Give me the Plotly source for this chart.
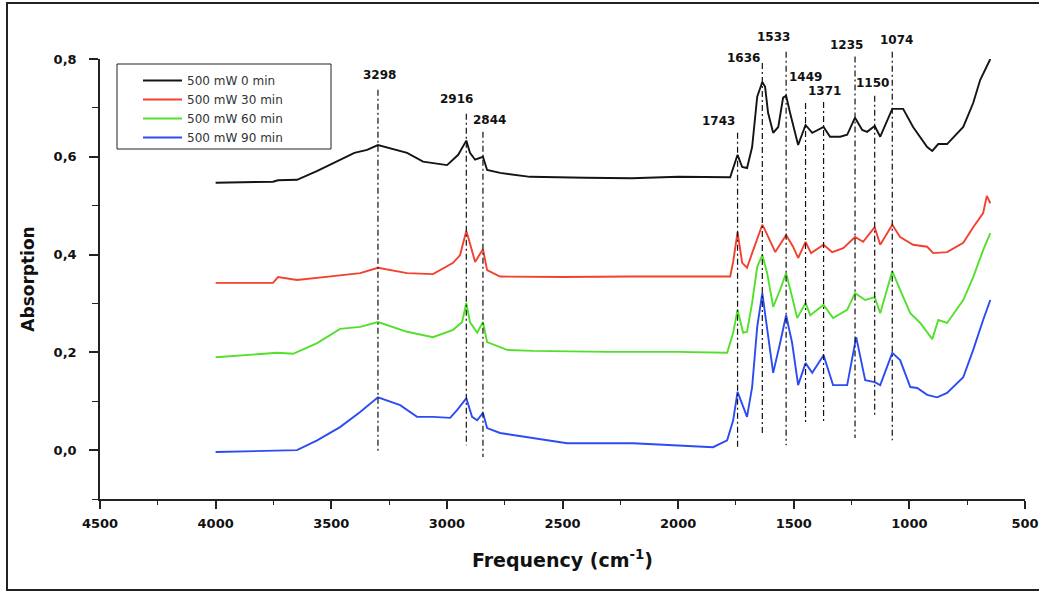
import plotly.graph_objects as go

# ---------------- data ----------------
series_names = ["500 mW 0 min", "500 mW 30 min", "500 mW 60 min", "500 mW 90 min"]
series_colors = ["#141414", "#f2412f", "#52e02c", "#2c4cf2"]

freq_0 = [4000, 3752, 3730, 3648, 3560, 3492, 3400, 3345, 3298, 3172, 3103, 3029, 2999, 2951, 2916,
          2900, 2878, 2844, 2826, 2770, 2640, 2400, 2200, 2000, 1775, 1743, 1723, 1702, 1680, 1658,
          1636, 1624, 1611, 1589, 1567, 1546, 1533, 1516, 1481, 1449, 1420, 1371, 1343, 1299, 1269,
          1235, 1204, 1183, 1150, 1126, 1074, 1027, 984, 923, 901, 875, 837, 767, 724, 694, 650]
abs_0 = [0.547, 0.549, 0.552, 0.553, 0.571, 0.587, 0.608, 0.614, 0.624, 0.608, 0.590, 0.585, 0.583, 0.604, 0.633,
         0.608, 0.594, 0.600, 0.573, 0.567, 0.559, 0.557, 0.556, 0.559, 0.558, 0.604, 0.579, 0.577, 0.620, 0.723,
         0.753, 0.743, 0.690, 0.649, 0.661, 0.721, 0.725, 0.690, 0.624, 0.665, 0.649, 0.661, 0.641, 0.641, 0.645,
         0.680, 0.655, 0.651, 0.663, 0.641, 0.698, 0.698, 0.661, 0.620, 0.612, 0.626, 0.626, 0.661, 0.710, 0.757, 0.800]

freq_30 = [4000, 3752, 3730, 3648, 3492, 3375, 3298, 3172, 3060, 2973, 2943, 2916, 2908, 2878, 2844,
           2826, 2770, 2500, 2200, 2000, 1775, 1762, 1743, 1723, 1702, 1680, 1636, 1624, 1580, 1533,
           1503, 1481, 1449, 1425, 1371, 1334, 1286, 1235, 1200, 1150, 1126, 1074, 1040, 984, 923,
           897, 837, 767, 724, 681, 665, 650]
abs_30 = [0.342, 0.342, 0.354, 0.348, 0.356, 0.362, 0.373, 0.362, 0.360, 0.383, 0.399, 0.448, 0.436, 0.385, 0.411,
          0.368, 0.355, 0.354, 0.355, 0.355, 0.355, 0.385, 0.446, 0.383, 0.373, 0.403, 0.461, 0.450, 0.405, 0.440,
          0.416, 0.393, 0.426, 0.403, 0.420, 0.405, 0.413, 0.436, 0.426, 0.456, 0.420, 0.461, 0.436, 0.420, 0.416,
          0.403, 0.405, 0.424, 0.456, 0.485, 0.520, 0.505]

freq_60 = [4000, 3734, 3665, 3561, 3462, 3375, 3298, 3172, 3060, 2973, 2934, 2916, 2900, 2869, 2844,
           2826, 2740, 2627, 2300, 2000, 1788, 1762, 1743, 1719, 1702, 1680, 1658, 1636, 1615, 1589,
           1559, 1533, 1507, 1485, 1449, 1429, 1371, 1330, 1269, 1235, 1191, 1150, 1126, 1074, 1040,
           996, 953, 901, 875, 837, 767, 724, 681, 650]
abs_60 = [0.190, 0.199, 0.197, 0.219, 0.248, 0.252, 0.262, 0.242, 0.231, 0.246, 0.262, 0.301, 0.262, 0.240, 0.262,
          0.221, 0.205, 0.203, 0.201, 0.201, 0.199, 0.240, 0.287, 0.240, 0.242, 0.301, 0.375, 0.399, 0.362, 0.293,
          0.328, 0.362, 0.313, 0.270, 0.301, 0.276, 0.297, 0.270, 0.287, 0.321, 0.307, 0.313, 0.280, 0.366, 0.328,
          0.280, 0.260, 0.227, 0.266, 0.260, 0.307, 0.354, 0.409, 0.444]

freq_90 = [4000, 3648, 3561, 3462, 3375, 3298, 3202, 3129, 3060, 2986, 2956, 2916, 2891, 2869, 2844,
           2826, 2770, 2627, 2480, 2195, 1991, 1849, 1788, 1762, 1743, 1719, 1702, 1680, 1658, 1636,
           1615, 1589, 1559, 1533, 1507, 1481, 1449, 1420, 1371, 1330, 1269, 1230, 1191, 1150, 1126,
           1074, 1040, 996, 966, 923, 880, 837, 767, 724, 681, 650]
abs_90 = [-0.004, 0.000, 0.020, 0.047, 0.078, 0.108, 0.092, 0.068, 0.068, 0.066, 0.082, 0.106, 0.068, 0.061, 0.076,
          0.045, 0.035, 0.025, 0.014, 0.014, 0.010, 0.006, 0.020, 0.061, 0.119, 0.088, 0.068, 0.129, 0.252, 0.321,
          0.252, 0.158, 0.219, 0.276, 0.219, 0.133, 0.178, 0.158, 0.194, 0.133, 0.133, 0.231, 0.143, 0.139, 0.133,
          0.199, 0.184, 0.129, 0.127, 0.113, 0.108, 0.117, 0.149, 0.205, 0.266, 0.307]

# marked peaks: wavenumber, label, top and bottom of the guide line, label height
peak_freq = [3298, 2916, 2844, 1743, 1636, 1533, 1449, 1371, 1235, 1150, 1074]
peak_label = ["3298", "2916", "2844", "1743", "1636", "1533", "1449", "1371", "1235", "1150", "1074"]
peak_line_top = [0.737, 0.688, 0.651, 0.649, 0.792, 0.815, 0.710, 0.712, 0.805, 0.725, 0.815]
peak_line_bottom = [-0.004, 0.010, -0.014, 0.004, 0.031, 0.010, 0.055, 0.055, 0.025, 0.068, 0.020]
peak_label_y = [0.768, 0.719, 0.676, 0.673, 0.802, 0.845, 0.764, 0.735, 0.829, 0.751, 0.839]
peak_label_shift = [2, -10, 7, -19, -19, -13, 0, 1, -9, -2, 4]

x_ticks = [4500, 4000, 3500, 3000, 2500, 2000, 1500, 1000, 500]
y_ticks = [0.0, 0.2, 0.4, 0.6, 0.8]

# ---------------- layout constants ----------------
W, H = 1039, 592
M_L, M_R, M_T, M_B = 100, 14, 20, 93
plot_w = W - M_L - M_R           # 925
plot_h = H - M_T - M_B           # 479
main_h = 440                     # height of the real y axis
main_frac = main_h / plot_h
Y_RANGE = [-0.1, 0.8]
Y2_RANGE = [-0.1, -0.1 + (Y_RANGE[1] - Y_RANGE[0]) / main_frac]
BOTTOM = H - M_B                 # pixel row of the x axis


def px_x(p):
    return (p - M_L) / plot_w


def px_y(p):
    return (BOTTOM - p) / plot_h


TICK_FONT = dict(family="DejaVu Sans", size=13, color="#111", weight="bold")

fig = go.Figure()

all_f = [freq_0, freq_30, freq_60, freq_90]
all_a = [abs_0, abs_30, abs_60, abs_90]
for name, col, f, a in zip(series_names, series_colors, all_f, all_a):
    fig.add_trace(go.Scatter(x=f, y=a, mode="lines", name=name,
                             line=dict(color=col, width=1.9)))

# guide lines (on an invisible, taller twin axis so they can rise above 0.8)
gx, gy = [], []
for f, t, b in zip(peak_freq, peak_line_top, peak_line_bottom):
    gx += [f, f, None]
    gy += [t, b, None]
fig.add_trace(go.Scatter(x=gx, y=gy, mode="lines", yaxis="y2", showlegend=False,
                         hoverinfo="skip",
                         line=dict(color="#111", width=1.2, dash="6px,3px,2px,3px")))

for f, lab, ly, sh in zip(peak_freq, peak_label, peak_label_y, peak_label_shift):
    fig.add_annotation(x=f, y=ly, xref="x", yref="y2", text=lab, showarrow=False,
                       xanchor="center", yanchor="middle", xshift=sh,
                       font=dict(family="DejaVu Sans", size=12, color="#111", weight="bold"))

# outer frame of the picture
fig.add_shape(type="rect", xref="paper", yref="paper",
              x0=px_x(7), x1=px_x(1045), y0=px_y(590), y1=px_y(3),
              line=dict(color="#222", width=2), fillcolor="rgba(0,0,0,0)", layer="below")
# legend frame
fig.add_shape(type="rect", xref="paper", yref="paper",
              x0=px_x(117), x1=px_x(331), y0=px_y(149), y1=px_y(64),
              line=dict(color="#222", width=1), fillcolor="rgba(0,0,0,0)", layer="above")

fig.update_layout(
    width=W, height=H,
    margin=dict(l=M_L, r=M_R, t=M_T, b=M_B, autoexpand=False),
    paper_bgcolor="white", plot_bgcolor="rgba(0,0,0,0)",
    separators=", ",
    showlegend=True,
    legend=dict(x=px_x(138), y=px_y(66), xanchor="left", yanchor="top",
                borderwidth=0, bgcolor="rgba(0,0,0,0)",
                font=dict(family="DejaVu Sans", size=12, color="#333"),
                itemwidth=39, tracegroupgap=0),
    xaxis=dict(range=[4500, 500], tickvals=x_ticks, ticks="outside", ticklen=8, tickwidth=1.5,
               tickcolor="#222", showline=True, linecolor="#222", linewidth=1.5,
               showgrid=False, zeroline=False, tickfont=TICK_FONT, ticklabelstandoff=4,
               minor=dict(dtick=250, tick0=500, ticks="outside", ticklen=4, tickwidth=1.2,
                          tickcolor="#222", showgrid=False),
               title=dict(text="Frequency (cm<sup>-1</sup>)", standoff=23,
                          font=dict(family="DejaVu Sans", size=19, color="#111", weight="bold")),
               anchor="y"),
    yaxis=dict(range=Y_RANGE, domain=[0, main_frac], tickvals=y_ticks, tickformat=".1f",
               ticks="outside", ticklen=9, tickwidth=1.5, tickcolor="#222",
               showline=True, linecolor="#222", linewidth=1.5, showgrid=False, zeroline=False,
               tickfont=TICK_FONT, ticklabelstandoff=10,
               minor=dict(dtick=0.1, tick0=-0.1, ticks="outside", ticklen=6, tickwidth=1.2,
                          tickcolor="#222", showgrid=False),
               title=dict(text="Absorption", standoff=15,
                          font=dict(family="DejaVu Sans", size=17, color="#111", weight="bold")),
               anchor="x"),
    yaxis2=dict(range=Y2_RANGE, domain=[0, 1], anchor="x", visible=False, showgrid=False,
                zeroline=False),
)

fig.write_html("out.html", config={"displayModeBar": False},
               post_script="document.body.style.margin='0px';")
